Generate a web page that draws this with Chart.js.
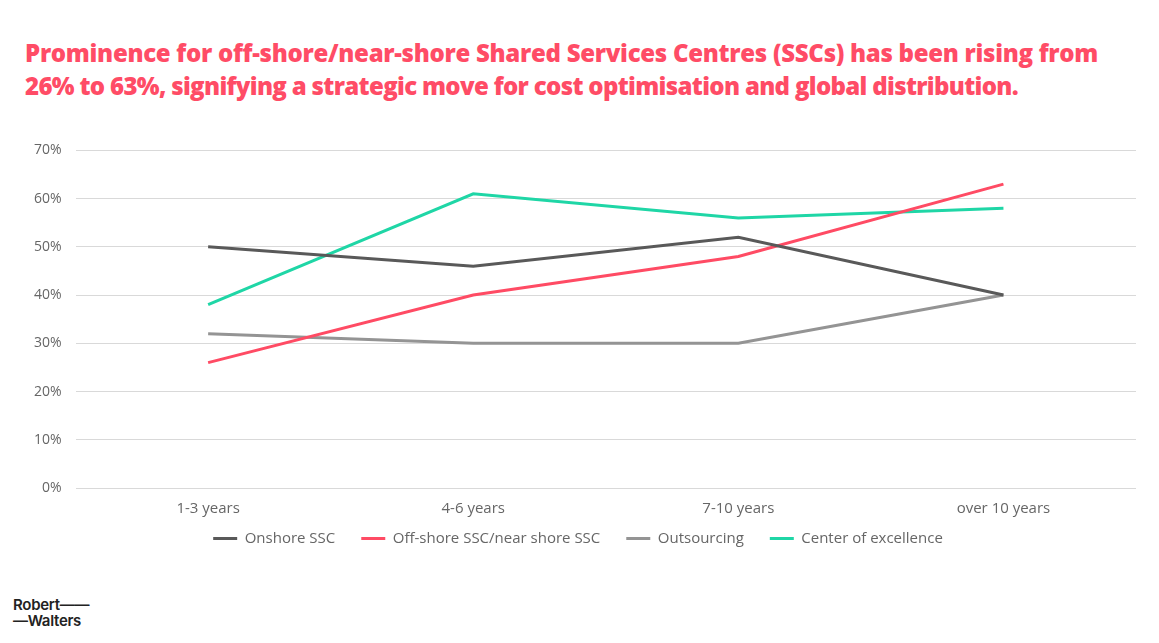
<!DOCTYPE html>
<html>
<head>
<meta charset="utf-8">
<script src="https://cdn.jsdelivr.net/npm/chart.js@4"></script>
<style>
  html, body { margin:0; padding:0; background:#fff; width:1159px; height:643px; overflow:hidden; }
  #title { position:absolute; left:25px; top:36px; font-family:"Open Sans", "Lato", sans-serif; font-weight:800; font-size:24px; line-height:33px; color:#ff4c66; white-space:nowrap; }
  #title span { display:block; }
  #wrap { position:absolute; left:0; top:128px; width:1159px; height:453px; }
  #logo { position:absolute; left:13px; top:597px; font-family:"Inter", "Lato", sans-serif; font-weight:600; font-size:15px; line-height:16px; color:#222; letter-spacing:-0.3px; }
</style>
</head>
<body>
<div id="title"><span id="t1">Prominence for off-shore/near-shore Shared Services Centres (SSCs) has been rising from</span><span id="t2">26% to 63%, signifying a strategic move for cost optimisation and global distribution.</span></div>
<div id="wrap"><canvas id="c"></canvas></div>
<div id="logo">Robert——<br>—Walters</div>
<script>
const categories = ["1-3 years", "4-6 years", "7-10 years", "over 10 years"];
const onshore = [50, 46, 52, 40];
const offshore = [26, 40, 48, 63];
const outsourcing = [32, 30, 30, 40];
const excellence = [38, 61, 56, 58];
const yTicks = [0, 10, 20, 30, 40, 50, 60, 70];

// fit title lines to the reference widths
function fitLine(id, target) {
  const el = document.getElementById(id);
  el.style.display = 'inline-block';
  const w = el.getBoundingClientRect().width;
  const n = el.textContent.length;
  el.style.letterSpacing = ((target - w) / n) + 'px';
  el.style.display = 'block';
}
fitLine('t1', 1073);
fitLine('t2', 993);

const mk = (label, data, color) => ({ label, data, borderColor: color, backgroundColor: color, borderWidth: 3, pointRadius: 0, pointHoverRadius: 0, tension: 0, fill: false });

// nudge the legend up closer to the axis labels (keeps wide horizontal spacing)
const legendShift = {
  id: 'legendShift',
  afterLayout(chart) {
    const lg = chart.legend;
    if (lg) { lg.top -= 25; lg.bottom -= 25; }
  }
};

new Chart(document.getElementById('c'), {
  type: 'line',
  data: {
    labels: categories,
    datasets: [
      mk("Onshore SSC", onshore, "#595959"),
      mk("Off-shore SSC/near shore SSC", offshore, "#ff4b64"),
      mk("Outsourcing", outsourcing, "#949494"),
      mk("Center of excellence", excellence, "#1fd6a6")
    ]
  },
  plugins: [legendShift],
  options: {
    responsive: true,
    maintainAspectRatio: false,
    animation: false,
    layout: { padding: { left: 20, right: 23, top: 10, bottom: 0 } },
    plugins: {
      legend: {
        position: 'bottom',
        labels: {
          boxWidth: 24, boxHeight: 3, padding: 26,
          color: '#666', font: { family: '"Open Sans", sans-serif', size: 15 },
          generateLabels(chart) {
            return chart.data.datasets.map((d, i) => ({ text: d.label, fillStyle: d.borderColor, strokeStyle: d.borderColor, lineWidth: 0, fontColor: '#666', datasetIndex: i, hidden: false }));
          }
        }
      },
      tooltip: { enabled: false }
    },
    scales: {
      x: {
        offset: true,
        grid: { display: false, drawTicks: false },
        border: { display: false },
        ticks: { color: '#666', font: { family: '"Open Sans", sans-serif', size: 15 }, padding: 12 }
      },
      y: {
        min: 0, max: 70,
        afterBuildTicks(axis) { axis.ticks = yTicks.map(v => ({ value: v })); },
        grid: { color: '#d9d9d9', lineWidth: 1, drawTicks: false },
        border: { display: false },
        ticks: { color: '#666', font: { family: '"Open Sans", sans-serif', size: 14 }, padding: 14, callback: v => v + '%' }
      }
    }
  }
});
</script>
</body>
</html>
